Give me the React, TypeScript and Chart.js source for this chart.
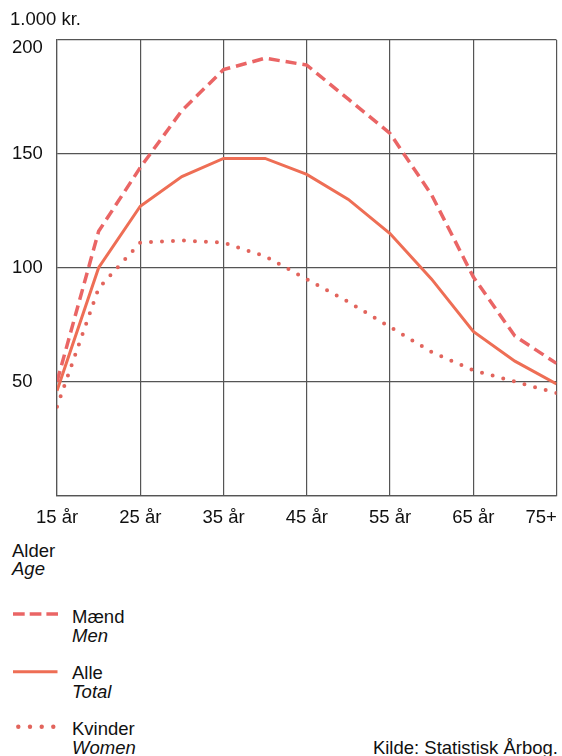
import React, { useEffect, useRef } from 'react';
import { Chart, registerables } from 'chart.js';

Chart.register(...registerables);

const AGES = [15, 20, 25, 30, 35, 40, 45, 50, 55, 60, 65, 70, 75];
const MEN = [50, 116, 144, 169, 187, 192, 189, 174, 159, 132, 96, 70, 58];
const TOTAL = [46, 100, 127, 140, 148, 148, 141, 130, 115, 95, 72, 59, 49];
const WOMEN = [39, 91, 111, 112, 111, 105, 95, 85, 74, 63, 55, 50, 45];

const X_TICK_VALUES = [15, 25, 35, 45, 55, 65, 75];
const X_TICK_LABELS = ['15 år', '25 år', '35 år', '45 år', '55 år', '65 år', '75+'];

const FONT = "'Liberation Sans', Arial, Helvetica, sans-serif";
const FS = 18.5;
const GRID = '#555555';
const MEN_COLOR = '#ea6565';
const TOTAL_COLOR = '#ee6e55';
const WOMEN_COLOR = '#e2645c';

export default function App() {
  const ref = useRef<HTMLCanvasElement>(null);

  useEffect(() => {
    if (!ref.current) return;
    const chart = new Chart(ref.current, {
      type: 'line',
      data: {
        datasets: [
          {
            label: 'Mænd',
            data: AGES.map((a, i) => ({ x: a, y: MEN[i] })),
            borderColor: MEN_COLOR,
            borderWidth: 3.5,
            borderDash: [11, 6],
            pointRadius: 0,
            tension: 0,
          },
          {
            label: 'Alle',
            data: AGES.map((a, i) => ({ x: a, y: TOTAL[i] })),
            borderColor: TOTAL_COLOR,
            borderWidth: 3,
            pointRadius: 0,
            tension: 0,
          },
          {
            label: 'Kvinder',
            data: AGES.map((a, i) => ({ x: a, y: WOMEN[i] })),
            borderColor: WOMEN_COLOR,
            borderWidth: 4,
            borderDash: [0, 11],
            borderCapStyle: 'round',
            pointRadius: 0,
            tension: 0,
          },
        ],
      },
      options: {
        animation: false,
        responsive: false,
        maintainAspectRatio: false,
        layout: { padding: { left: 12, top: 40, right: 5.5, bottom: 4.5 } },
        plugins: { legend: { display: false }, tooltip: { enabled: false } },
        scales: {
          x: {
            type: 'linear',
            min: 15,
            max: 75,
            grid: { color: GRID, lineWidth: 1.2, drawTicks: false },
            border: { display: true, color: GRID, width: 1.2 },
            ticks: {
              stepSize: 10,
              autoSkip: false,
              maxRotation: 0,
              padding: 11,
              color: '#111',
              font: { family: FONT, size: FS },
              callback: (v: any) => {
                const i = X_TICK_VALUES.indexOf(Number(v));
                if (i < 0) return '';
                const lbl = X_TICK_LABELS[i];
                return i === X_TICK_VALUES.length - 1 ? lbl + '      ' : lbl;
              },
            },
            afterFit: (s: any) => {
              s.height = 40;
              s.paddingLeft = 0;
              s.paddingRight = 0;
            },
          },
          y: {
            min: 0,
            max: 200,
            grid: { color: GRID, lineWidth: 1.2, drawTicks: false },
            border: { display: true, color: GRID, width: 1.2 },
            ticks: {
              stepSize: 50,
              crossAlign: 'far',
              color: '#111',
              font: { family: FONT, size: FS, lineHeight: 0.87 },
              callback: (v: any) => {
                const n = Number(v);
                if (n === 0) return '';
                if (n === 200) return ['', '200'];
                return String(n);
              },
            },
            afterFit: (s: any) => {
              s.width = 45;
              s.paddingTop = 0;
              s.paddingBottom = 0;
            },
          },
        },
      },
    } as any);
    return () => chart.destroy();
  }, []);

  const text: React.CSSProperties = {
    position: 'absolute',
    fontFamily: FONT,
    fontSize: FS,
    lineHeight: '18px',
    color: '#111',
    whiteSpace: 'nowrap',
    margin: 0,
  };

  return (
    <div style={{ position: 'absolute', left: 0, top: 0, width: 562, height: 756, background: '#fff', overflow: 'hidden' }}>
      <canvas ref={ref} width={562} height={540} style={{ position: 'absolute', left: 0, top: 0, width: 562, height: 540 }} />
      <div style={{ ...text, left: 10, top: 10 }}>1.000 kr.</div>

      <div style={{ ...text, left: 12, top: 542 }}>Alder</div>
      <div style={{ ...text, left: 12, top: 560, fontStyle: 'italic' }}>Age</div>

      <svg width={60} height={140} style={{ position: 'absolute', left: 0, top: 600 }}>
        <line x1={13} y1={14} x2={58} y2={14} stroke={MEN_COLOR} strokeWidth={3.5} strokeDasharray="11.7 5" />
        <line x1={13} y1={71.7} x2={57.5} y2={71.7} stroke={TOTAL_COLOR} strokeWidth={3} />
        {[18.3, 30, 41.7, 53.3].map((cx) => (
          <circle key={cx} cx={cx} cy={126.7} r={2.2} fill={WOMEN_COLOR} />
        ))}
      </svg>

      <div style={{ ...text, left: 72, top: 608 }}>Mænd</div>
      <div style={{ ...text, left: 72, top: 627, fontStyle: 'italic' }}>Men</div>
      <div style={{ ...text, left: 72, top: 664 }}>Alle</div>
      <div style={{ ...text, left: 72, top: 683, fontStyle: 'italic' }}>Total</div>
      <div style={{ ...text, left: 72, top: 720 }}>Kvinder</div>
      <div style={{ ...text, left: 72, top: 739, fontStyle: 'italic' }}>Women</div>

      <div style={{ ...text, right: 4, top: 739 }}>Kilde: Statistisk Årbog.</div>
    </div>
  );
}
